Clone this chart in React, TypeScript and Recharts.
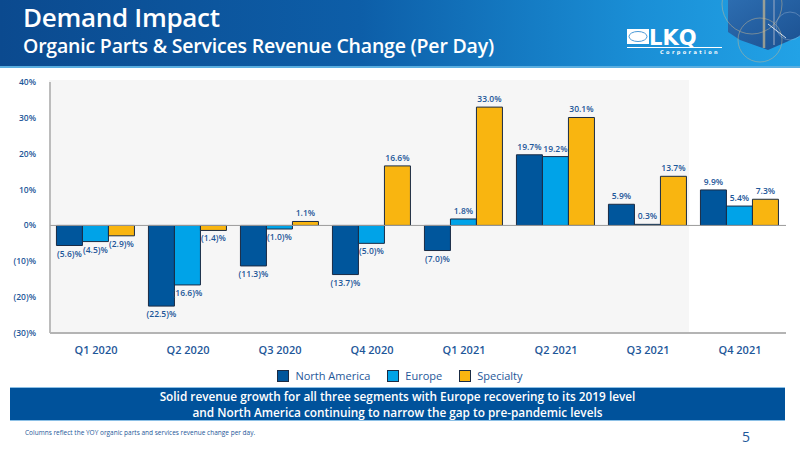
import { BarChart, Bar, XAxis, YAxis, ReferenceLine, LabelList, Legend } from "recharts";

const categories = ["Q1 2020", "Q2 2020", "Q3 2020", "Q4 2020", "Q1 2021", "Q2 2021", "Q3 2021", "Q4 2021"];
const northAmerica = [-5.6, -22.5, -11.3, -13.7, -7.0, 19.7, 5.9, 9.9];
const europe = [-4.5, -16.6, -1.0, -5.0, 1.8, 19.2, 0.3, 5.4];
const specialty = [-2.9, -1.4, 1.1, 16.6, 33.0, 30.1, 13.7, 7.3];
const yTicks = [-30, -20, -10, 0, 10, 20, 30, 40];
const seriesOrder = ["North America", "Europe", "Specialty"];

const FONT = "'Open Sans', 'DejaVu Sans', sans-serif";
const TEXT_BLUE = "#1e5799";
const COLORS = { na: "#00569c", eu: "#00a3e8", sp: "#f9b510" };
const BORDER = "#1a2b44";

const chartData = categories.map((name, i) => ({
  name,
  na: northAmerica[i],
  eu: europe[i],
  sp: specialty[i],
}));

const pct = (v: number) => (v < 0 ? `(${Math.abs(v)})%` : `${v}%`);
const pct1 = (v: number) => (v < 0 ? `(${Math.abs(v).toFixed(1)})%` : `${v.toFixed(1)}%`);

const labelStyle = { fill: TEXT_BLUE, fontSize: 8.5, fontWeight: 600, fontFamily: FONT };

const LegendContent = ({ payload }: any) => {
  const items = [...(payload || [])].sort((a: any, b: any) => seriesOrder.indexOf(a.value) - seriesOrder.indexOf(b.value));
  return (
    <div style={{ display: "flex", justifyContent: "center", gap: 17, fontFamily: FONT, fontSize: 11, color: TEXT_BLUE }}>
      {items.map((p: any) => (
        <div key={p.value} style={{ display: "flex", alignItems: "center", gap: 6 }}>
          <span style={{ width: 10, height: 10, background: p.color, border: `1px solid ${BORDER}`, display: "inline-block" }} />
          <span>{p.value}</span>
        </div>
      ))}
    </div>
  );
};

const HeaderArt = () => (
  <svg width={800} height={68} style={{ position: "absolute", left: 0, top: 0 }}>
    <defs>
      <linearGradient id="shield" x1="0" y1="0" x2="1" y2="1">
        <stop offset="0%" stopColor="#2f65a8" />
        <stop offset="100%" stopColor="#1a4282" />
      </linearGradient>
    </defs>
    <polygon points="728,0 800,0 800,36 768,50 740,40 728,32" fill="url(#shield)" opacity={0.85} />
    <line x1="764" y1="0" x2="764" y2="48" stroke="#c8b890" strokeWidth={2.5} opacity={0.7} />
    <line x1="774" y1="0" x2="774" y2="45" stroke="#8aa0c0" strokeWidth={2} opacity={0.6} />
    <circle cx="752" cy="4" r="30" fill="none" stroke="#c8b890" strokeWidth={0.7} opacity={0.7} />
    <circle cx="760" cy="40" r="22" fill="none" stroke="#c8b890" strokeWidth={0.7} opacity={0.7} />
    <circle cx="790" cy="26" r="14" fill="none" stroke="#9fb6d6" strokeWidth={0.6} opacity={0.7} />
    <line x1="768" y1="24" x2="786" y2="38" stroke="#ffffff" strokeWidth={1} opacity={0.8} />
    {/* logo */}
    <rect x={627} y={29} width={22} height={15} fill="#ffffff" />
    <ellipse cx={638} cy={36.5} rx={9} ry={5} fill="none" stroke="#4a9ad8" strokeWidth={1} />
    <text x={649} y={45} fill="#ffffff" fontFamily="'DejaVu Sans', sans-serif" fontWeight={700} fontSize={21}>
      LKQ
    </text>
    <line x1={627} y1={47.5} x2={722} y2={47.5} stroke="#ffffff" strokeWidth={1} />
    <text x={660} y={54} fill="#ffffff" fontFamily="'DejaVu Sans', sans-serif" fontSize={5} fontWeight={700} letterSpacing={2.4}>
      Corporation
    </text>
  </svg>
);

export default function App() {
  return (
    <div style={{ position: "absolute", left: 0, top: 0, width: 800, height: 450, background: "#ffffff", overflow: "hidden", fontFamily: FONT }}>
      <div
        style={{
          position: "absolute",
          left: 0,
          top: 0,
          width: 800,
          height: 66,
          background: "linear-gradient(90deg, #0b4a8f 0%, #0d5ea8 45%, #1a8fd6 80%, #22a2e6 100%)",
          borderBottom: "2px solid #5aaee0",
        }}
      />
      <HeaderArt />
      <div style={{ position: "absolute", left: 23, top: -1, color: "#ffffff", fontSize: 26, fontWeight: 600, letterSpacing: -0.3, whiteSpace: "nowrap" }}>
        Demand Impact
      </div>
      <div style={{ position: "absolute", left: 23, top: 32, color: "#ffffff", fontSize: 19.5, fontWeight: 600, letterSpacing: -0.2, whiteSpace: "nowrap" }}>
        Organic Parts &amp; Services Revenue Change (Per Day)
      </div>

      <div style={{ position: "absolute", left: 49, top: 80, width: 640, height: 252, background: "#f6f6f6" }} />

      <div style={{ position: "absolute", left: 0, top: 0 }}>
        <BarChart
          width={800}
          height={450}
          data={chartData}
          margin={{ top: 82, right: 14, bottom: 87, left: 0 }}
          barCategoryGap="7%"
          barGap={0}
        >
          <YAxis
            width={50}
            domain={[-30, 40]}
            ticks={yTicks}
            tickFormatter={pct}
            tickLine={false}
            tickMargin={8}
            axisLine={{ stroke: "#a8a8a8", strokeWidth: 1.5 }}
            tick={{ fill: TEXT_BLUE, fontSize: 8.5, fontWeight: 600, fontFamily: FONT }}
            interval={0}
          />
          <XAxis
            dataKey="name"
            height={30}
            tickLine={false}
            tickMargin={7}
            axisLine={{ stroke: "#b4b4b4", strokeWidth: 2 }}
            tick={{ fill: TEXT_BLUE, fontSize: 11, fontWeight: 600, fontFamily: FONT }}
            interval={0}
          />
          <ReferenceLine y={0} stroke="#9a9a9a" strokeWidth={1} />
          <Bar dataKey="na" name="North America" fill={COLORS.na} stroke={BORDER} strokeWidth={1} isAnimationActive={false}>
            <LabelList dataKey="na" position="top" offset={5} formatter={(v: any) => pct1(Number(v))} style={labelStyle} />
          </Bar>
          <Bar dataKey="eu" name="Europe" fill={COLORS.eu} stroke={BORDER} strokeWidth={1} isAnimationActive={false}>
            <LabelList dataKey="eu" position="top" offset={5} formatter={(v: any) => pct1(Number(v))} style={labelStyle} />
          </Bar>
          <Bar dataKey="sp" name="Specialty" fill={COLORS.sp} stroke={BORDER} strokeWidth={1} isAnimationActive={false}>
            <LabelList dataKey="sp" position="top" offset={5} formatter={(v: any) => pct1(Number(v))} style={labelStyle} />
          </Bar>
          <Legend
            verticalAlign="middle"
            align="center"
            content={<LegendContent />}
            wrapperStyle={{ top: 368, left: 0, width: 800 }}
          />
        </BarChart>
      </div>

      <div
        style={{
          position: "absolute",
          left: 10,
          top: 387,
          width: 775,
          height: 34,
          background: "#00529b",
          borderTop: "1.5px solid #8cc0e6",
          borderBottom: "1.5px solid #8cc0e6",
          color: "#ffffff",
          fontSize: 11.8,
          fontWeight: 600,
          textAlign: "center",
          boxSizing: "border-box",
        }}
      >
        <div style={{ position: "absolute", left: 0, width: "100%", top: -0.5, lineHeight: "16px" }}>
          Solid revenue growth for all three segments with Europe recovering to its 2019 level
        </div>
        <div style={{ position: "absolute", left: 0, width: "100%", top: 16, lineHeight: "16px" }}>
          and North America continuing to narrow the gap to pre-pandemic levels
        </div>
      </div>
      <div style={{ position: "absolute", left: 25, top: 428, fontSize: 6.5, color: TEXT_BLUE }}>
        Columns reflect the YOY organic parts and services revenue change per day.
      </div>
      <div style={{ position: "absolute", left: 742, top: 427, fontSize: 14, color: TEXT_BLUE }}>5</div>
    </div>
  );
}
